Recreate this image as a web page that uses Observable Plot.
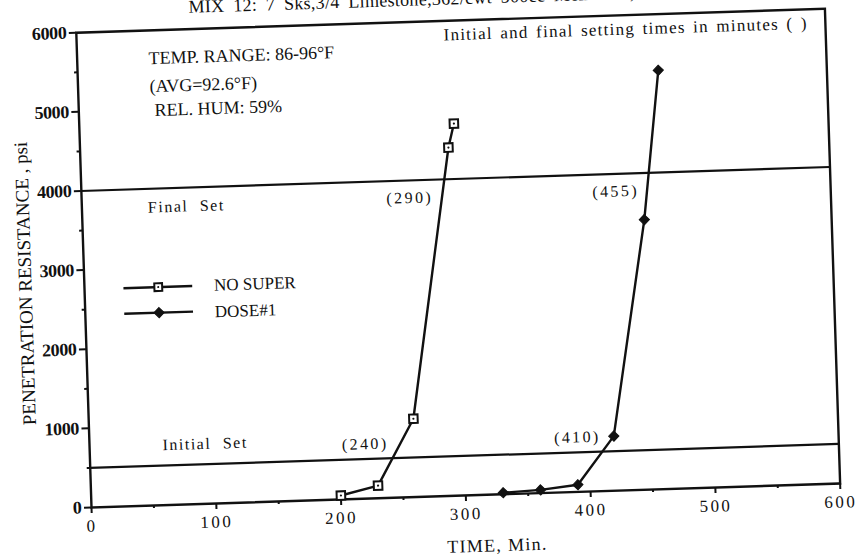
<!DOCTYPE html>
<html><head><meta charset="utf-8">
<script src="https://cdn.jsdelivr.net/npm/d3@7"></script>
<script src="https://cdn.jsdelivr.net/npm/@observablehq/plot@0.6"></script>
<style>
html,body{margin:0;padding:0;background:#fff;}
#chart{width:859px;height:559px;overflow:hidden;position:relative;background:#fff;}
#chart svg{display:block;transform-origin:90.7px 507.3px;transform:rotate(-1.835deg);}
#chart svg text{fill:#111;}
g[aria-label="y-axis tick label"] text{font-weight:bold;letter-spacing:-0.4px;}
g[aria-label="x-axis tick label"] text{letter-spacing:2.5px;}
.set-times text, text.set-times{letter-spacing:2.4px;}
.set-names text, text.set-names{letter-spacing:1.5px;word-spacing:6px;}
.note-right text, text.note-right{letter-spacing:1.25px;word-spacing:2px;}
.title text, text.title{word-spacing:4px;letter-spacing:0.3px;}
.xlabel text, text.xlabel{letter-spacing:1.3px;}
</style></head><body><div id="chart"></div>
<script>
// ---- data ----
const noSuperTime = [200, 230, 260, 295, 300];
const noSuperPsi  = [50, 160, 990, 4400, 4700];
const dose1Time   = [330, 360, 390, 420, 450, 465];
const dose1Psi    = [20, 40, 90, 690, 3410, 5290];
const setLevels   = [500, 4000];
const setNames    = ["Initial Set", "Final Set"];
const setTimes    = [240, 290, 410, 455];
const setTimeLevels = [500, 4000, 500, 4000];
const seriesNames = ["NO SUPER", "DOSE#1"];
const xTicks = [0, 100, 200, 300, 400, 500, 600];
const xMinor = [50, 150, 250, 350, 450, 550];
const yTicks = [0, 1000, 2000, 3000, 4000, 5000, 6000];
const yMinor = [500, 1500, 2500, 3500, 4500, 5500];
const titleText = "MIX 12: 7 Sks,3/4 Limestone,362/cwt 500cc Melment ,";
const notesLeft = ["TEMP. RANGE: 86-96°F", "(AVG=92.6°F)", "REL. HUM: 59%"];
const noteRight = "Initial and final setting times in minutes ( )";
const xLabel = "TIME, Min.";
const yLabel = "PENETRATION RESISTANCE , psi";

const noSuper = noSuperTime.map((t, i) => ({time: t, psi: noSuperPsi[i]}));
const dose1 = dose1Time.map((t, i) => ({time: t, psi: dose1Psi[i]}));
const setTimeRows = setTimes.map((t, i) => ({time: t, psi: setTimeLevels[i], label: `(${t})`}));
const setNameRows = setLevels.map((l, i) => ({psi: l, name: setNames[i]}));

const font = "'Liberation Serif', 'Times New Roman', serif";
const T = (data, opts) => Plot.text(data, {textAnchor: "start", lineAnchor: "middle", ...opts});

const chart = Plot.plot({
  width: 859, height: 559,
  marginLeft: 91, marginRight: 19, marginTop: 32, marginBottom: 52,
  x: {domain: [0, 600]},
  y: {domain: [0, 6000]},
  style: {fontFamily: font, color: "#111", background: "#fff", overflow: "visible"},
  marks: [
    Plot.frame({strokeWidth: 2.4, stroke: "#111"}),
    Plot.ruleY(setLevels, {strokeWidth: 2.2, stroke: "#111"}),
    Plot.axisY(yTicks, {tickSize: 7, tickPadding: 3, fontSize: 18, fontWeight: "bold", label: null, strokeWidth: 2, tickFormat: d => String(d)}),
    Plot.axisY(yMinor, {tickSize: 3, tickFormat: () => "", label: null, strokeWidth: 2}),
    Plot.axisX(xTicks, {tickSize: 6, tickPadding: 6, fontSize: 17, label: null, strokeWidth: 2, tickFormat: d => String(d)}),
    Plot.axisX(xMinor, {tickSize: 3, tickFormat: () => "", label: null, strokeWidth: 2}),
    // series
    Plot.line(noSuper, {x: "time", y: "psi", stroke: "#111", strokeWidth: 2.4}),
    Plot.line(dose1, {x: "time", y: "psi", stroke: "#111", strokeWidth: 2.4}),
    Plot.dot(noSuper, {x: "time", y: "psi", symbol: "square", r: 4.8, fill: "white", stroke: "#111", strokeWidth: 2}),
    Plot.dot(noSuper, {x: "time", y: "psi", r: 1.1, fill: "#111"}),
    Plot.dot(dose1, {x: "time", y: "psi", symbol: "diamond2", r: 4.6, fill: "#111", stroke: "#111", strokeWidth: 1}),
    // legend
    Plot.ruleY([2755, 2432], {x1: 31.6, x2: 86.7, stroke: "#111", strokeWidth: 2.4}),
    Plot.dot([2755], {x: 59.1, y: d => d, symbol: "square", r: 4.4, fill: "white", stroke: "#111", strokeWidth: 2}),
    Plot.dot([2755], {x: 59.1, y: d => d, r: 1, fill: "#111"}),
    Plot.dot([2432], {x: 59.1, y: d => d, symbol: "diamond2", r: 4.6, fill: "#111", stroke: "#111", strokeWidth: 1}),
    T(seriesNames, {x: 103.8, y: (d, i) => [2756, 2420][i], text: d => d, fontSize: 17}),
    // set line names
    T(setNameRows, {filter: (d, i) => i === 0, y: "psi", text: "name", frameAnchor: "left", fontSize: 16, dx: 73, dy: -20.4, className: "set-names"}),
    T(setNameRows, {filter: (d, i) => i === 1, y: "psi", text: "name", frameAnchor: "left", fontSize: 16, dx: 66, dy: 18.7, className: "set-names"}),
    // setting times
    T(setTimeRows, {filter: d => d.psi < 1000, x: "time", y: "psi", text: "label", textAnchor: "middle", fontSize: 16, dx: -24, dy: -15, className: "set-times"}),
    T(setTimeRows, {filter: d => d.psi >= 1000, x: "time", y: "psi", text: "label", textAnchor: "middle", fontSize: 16, dx: -34, dy: 17.5, className: "set-times"}),
    // notes
    T([notesLeft[0]], {frameAnchor: "top-left", fontSize: 18, dx: 71.4, dy: 28}),
    T([notesLeft[1]], {frameAnchor: "top-left", fontSize: 18, dx: 71.5, dy: 56}),
    T([notesLeft[2]], {frameAnchor: "top-left", fontSize: 18, dx: 75.7, dy: 80}),
    T([noteRight], {frameAnchor: "top-left", fontSize: 17, dx: 367, dy: 14, className: "note-right"}),
    T([titleText], {frameAnchor: "top-left", fontSize: 18, dx: 113, dy: -22, className: "title"}),
    T([xLabel], {frameAnchor: "bottom", textAnchor: "middle", fontSize: 18, dx: 30, dy: 51, className: "xlabel"}),
    T([yLabel], {frameAnchor: "left", textAnchor: "middle", rotate: -90, fontSize: 19, dx: -59, dy: 11.5})
  ]
});

document.getElementById("chart").appendChild(chart);
</script>
</body></html>
